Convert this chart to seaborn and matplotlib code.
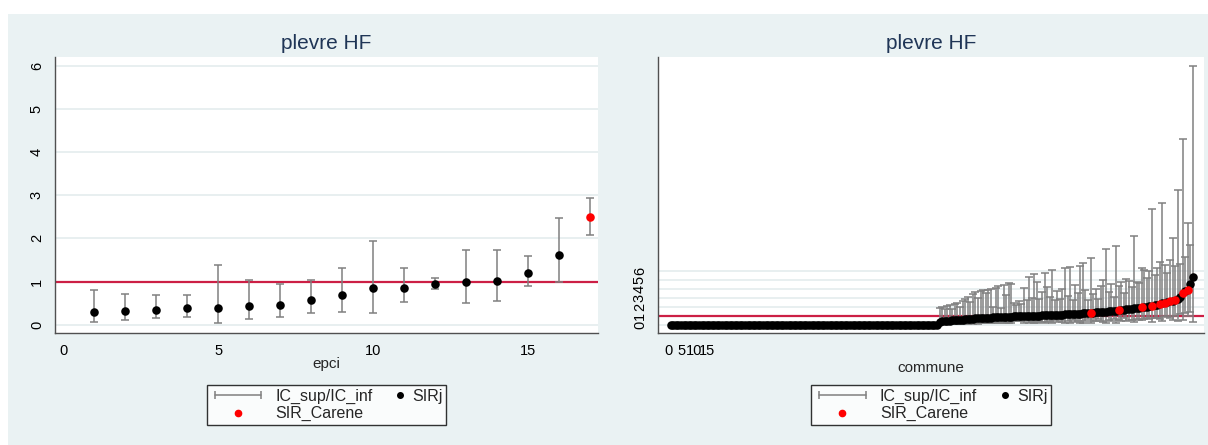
"""
SIR par EPCI et par commune - plevre HF (style Stata s2color)
Output: out.png
"""

import numpy as np
import pandas as pd
import matplotlib
matplotlib.use("Agg")
import matplotlib.pyplot as plt
from matplotlib.lines import Line2D
from matplotlib.legend_handler import HandlerLine2D
from matplotlib.patches import Rectangle
import seaborn as sns

TITLE = "plevre HF"

# ── Left panel: EPCI ──────────────────────────────────────────────────────────
epci_rank = list(range(1, 18))
epci_sir = [0.29, 0.33, 0.35, 0.38, 0.40, 0.43, 0.46, 0.57, 0.69, 0.86,
            0.86, 0.95, 0.98, 1.01, 1.20, 1.62, 2.49]
epci_sup = [0.80, 0.72, 0.70, 0.70, 1.39, 1.03, 0.95, 1.03, 1.32, 1.95,
            1.32, 1.09, 1.73, 1.74, 1.59, 2.47, 2.93]
epci_inf = [0.07, 0.12, 0.15, 0.17, 0.05, 0.13, 0.17, 0.28, 0.30, 0.28,
            0.53, 0.84, 0.50, 0.56, 0.90, 1.00, 2.08]
epci_carene = [17]

# ── Right panel: communes (ranks 1..205, first 105 have SIR = 0) ─────────────
n_zero_communes = 105
commune_sir_nz = [
    0.35, 0.38, 0.40, 0.42, 0.45, 0.48, 0.50, 0.52, 0.55, 0.57,
    0.60, 0.62, 0.65, 0.68, 0.70, 0.72, 0.74, 0.75, 0.77, 0.78,
    0.80, 0.82, 0.83, 0.85, 0.86, 0.88, 0.89, 0.90, 0.91, 0.92,
    0.93, 0.94, 0.95, 0.96, 0.97, 0.98, 0.99, 1.00, 1.01, 1.02,
    1.03, 1.04, 1.05, 1.06, 1.08, 1.09, 1.10, 1.11, 1.12, 1.14,
    1.15, 1.17, 1.18, 1.20, 1.22, 1.24, 1.26, 1.28, 1.30, 1.33,
    1.35, 1.37, 1.39, 1.41, 1.43, 1.45, 1.47, 1.50, 1.53, 1.56,
    1.60, 1.63, 1.66, 1.70, 1.74, 1.78, 1.82, 1.86, 1.90, 1.95,
    1.98, 2.02, 2.06, 2.10, 2.15, 2.20, 2.30, 2.36, 2.45, 2.52,
    2.60, 2.66, 2.75, 2.82, 3.10, 3.55, 3.70, 3.86, 4.50, 5.30,
]
commune_sup_nz = [
    1.9, 2.0, 1.7, 2.1, 2.2, 1.8, 2.3, 2.4, 2.0, 2.6,
    2.9, 3.1, 2.5, 3.4, 3.6, 3.0, 3.8, 3.9, 3.5, 3.9,
    4.0, 2.0, 4.1, 4.3, 1.9, 4.4, 3.3, 4.6, 4.5, 2.4,
    2.2, 2.6, 2.3, 4.1, 2.8, 5.3, 3.0, 5.6, 4.8, 2.9,
    3.6, 5.8, 4.2, 3.1, 6.1, 2.7, 3.8, 2.9, 4.0, 6.3,
    3.2, 6.4, 2.8, 4.4, 3.5, 6.5, 6.9, 3.9, 2.8, 7.4,
    3.4, 4.0, 2.9, 4.3, 5.0, 8.4, 3.6, 4.5, 3.1, 8.7,
    4.3, 4.8, 3.5, 5.1, 4.9, 4.2, 9.9, 4.8, 4.6, 6.3,
    6.1, 5.2, 6.0, 12.9, 5.5, 6.3, 7.0, 13.5, 6.6, 5.8,
    7.2, 9.6, 6.5, 15.0, 6.8, 20.6, 7.5, 11.3, 8.9, 28.7,
]
commune_inf_nz = [
    0.05, 0.06, 0.04, 0.08, 0.07, 0.10, 0.09, 0.12, 0.08, 0.10,
    0.12, 0.11, 0.14, 0.13, 0.15, 0.12, 0.16, 0.14, 0.17, 0.15,
    0.16, 0.35, 0.18, 0.17, 0.40, 0.19, 0.22, 0.18, 0.20, 0.38,
    0.42, 0.36, 0.45, 0.22, 0.40, 0.15, 0.35, 0.16, 0.21, 0.44,
    0.25, 0.17, 0.30, 0.42, 0.18, 0.50, 0.33, 0.48, 0.35, 0.19,
    0.45, 0.20, 0.55, 0.30, 0.42, 0.21, 0.20, 0.38, 0.60, 0.22,
    0.45, 0.40, 0.62, 0.38, 0.32, 0.20, 0.50, 0.42, 0.66, 0.22,
    0.55, 0.45, 0.70, 0.40, 0.48, 0.52, 0.25, 0.60, 0.55, 0.52,
    0.60, 0.75, 0.62, 0.35, 0.80, 0.70, 0.66, 0.40, 0.85, 0.95,
    0.72, 0.55, 1.00, 0.45, 1.20, 0.50, 1.30, 0.95, 1.40, 0.30,
]
commune_carene = [165, 176, 185, 189, 192, 194, 196, 198, 201, 203]

# ── Style ─────────────────────────────────────────────────────────────────────
BG = "#EAF2F3"
GRID = "#E4ECEE"
CI_GRAY = "#808080"
REF_RED = "#CC1F45"
AXIS = "#505050"
TITLE_COLOR = "#1F3556"
W, H = 1208, 445

sns.set_style("white")
plt.rcParams["font.family"] = ["Liberation Sans", "DejaVu Sans"]

epci_df = pd.DataFrame({"rank": epci_rank, "sir": epci_sir,
                        "sup": epci_sup, "inf": epci_inf})
epci_df["carene"] = epci_df["rank"].isin(epci_carene)

n_comm = n_zero_communes + len(commune_sir_nz)
comm_df = pd.DataFrame({
    "rank": range(1, n_comm + 1),
    "sir": [0.0] * n_zero_communes + commune_sir_nz,
    "sup": [np.nan] * n_zero_communes + commune_sup_nz,
    "inf": [np.nan] * n_zero_communes + commune_inf_nz,
})
comm_df["carene"] = comm_df["rank"].isin(commune_carene)


class SideDot(HandlerLine2D):
    # single marker drawn near the right end of the key box (compact Stata key);
    # HandlerLine2D puts the marker at the middle of xdata, so shrink xdata
    def get_xdata(self, legend, xdescent, ydescent, width, height, fontsize):
        x0 = -xdescent
        return [x0 + 0.9 * width, x0 + 1.0 * width], [x0 + 0.95 * width]


def draw_panel(ax, df, xlim, ylim, xlabel, labelpad):
    ax.set_facecolor("white")
    for y in range(7):
        ax.axhline(y, color=GRID, lw=1.2, zorder=0)
    ax.axhline(1, color=REF_RED, lw=1.6, zorder=1)

    ci = df.dropna(subset=["sup"])
    ax.errorbar(ci["rank"], ci["sir"],
                yerr=[ci["sir"] - ci["inf"], ci["sup"] - ci["sir"]],
                fmt="none", ecolor=CI_GRAY, elinewidth=1.1,
                capsize=3, capthick=1.1, zorder=2)

    sns.scatterplot(data=df[~df["carene"]], x="rank", y="sir", color="black",
                    s=38, linewidth=0, ax=ax, zorder=3)
    sns.scatterplot(data=df[df["carene"]], x="rank", y="sir", color="red",
                    s=38, linewidth=0, ax=ax, zorder=4)

    ax.set_xlim(*xlim)
    ax.set_ylim(*ylim)
    ax.set_xticks([0, 5, 10, 15])
    ax.set_yticks(range(7))
    ax.tick_params(axis="both", length=5, width=1, color=AXIS,
                   labelsize=10.5, pad=3, labelcolor="black")
    plt.setp(ax.get_yticklabels(), rotation=90, va="center")
    for side in ["top", "right"]:
        ax.spines[side].set_visible(False)
    for side in ["left", "bottom"]:
        ax.spines[side].set_color(AXIS)
        ax.spines[side].set_linewidth(1)
    ax.set_xlabel(xlabel, fontsize=11, labelpad=labelpad)
    ax.set_ylabel("")
    ax.set_title(TITLE, fontsize=15, color=TITLE_COLOR, pad=6)

    ic_h = Line2D([], [], color=CI_GRAY, lw=1.1, marker="|",
                  markersize=6, markeredgewidth=1.1)
    red_h = Line2D([], [], ls="none", marker="o", color="red", markersize=4.5)
    dot_h = Line2D([], [], ls="none", marker="o", color="black", markersize=4)
    leg = ax.legend([ic_h, red_h, dot_h], ["IC_sup/IC_inf", "SIR_Carene", "SIRj"],
                    ncol=2, loc="upper center", bbox_to_anchor=(0.5, -0.19),
                    borderaxespad=0, frameon=True, fancybox=False,
                    edgecolor="black", fontsize=11.5, handlelength=3.5,
                    handletextpad=0.6, columnspacing=-1.6, labelspacing=0.15,
                    borderpad=0.2, numpoints=1,
                    handler_map={ic_h: HandlerLine2D(numpoints=2),
                                 dot_h: SideDot(numpoints=1)})
    leg.get_frame().set_linewidth(1.0)
    leg.get_frame().set_facecolor("white")


fig = plt.figure(figsize=(W / 100, H / 100), dpi=100)
fig.patch.set_facecolor("white")
fig.add_artist(Rectangle((8 / W, 0), 1, (H - 14) / H, transform=fig.transFigure,
                         facecolor=BG, edgecolor="none", zorder=-10))

ax1 = fig.add_axes([55 / W, (H - 333) / H, 543 / W, 276 / H])
ax2 = fig.add_axes([658 / W, (H - 333) / H, 546 / W, 276 / H])

draw_panel(ax1, epci_df, (-0.26, 17.26), (-0.19, 6.2), "epci", -1)
draw_panel(ax2, comm_df, (-4.0, 209.3), (-0.92, 29.74), "commune", 2)

fig.savefig("out.png", dpi=100, facecolor=fig.get_facecolor())
plt.close(fig)
